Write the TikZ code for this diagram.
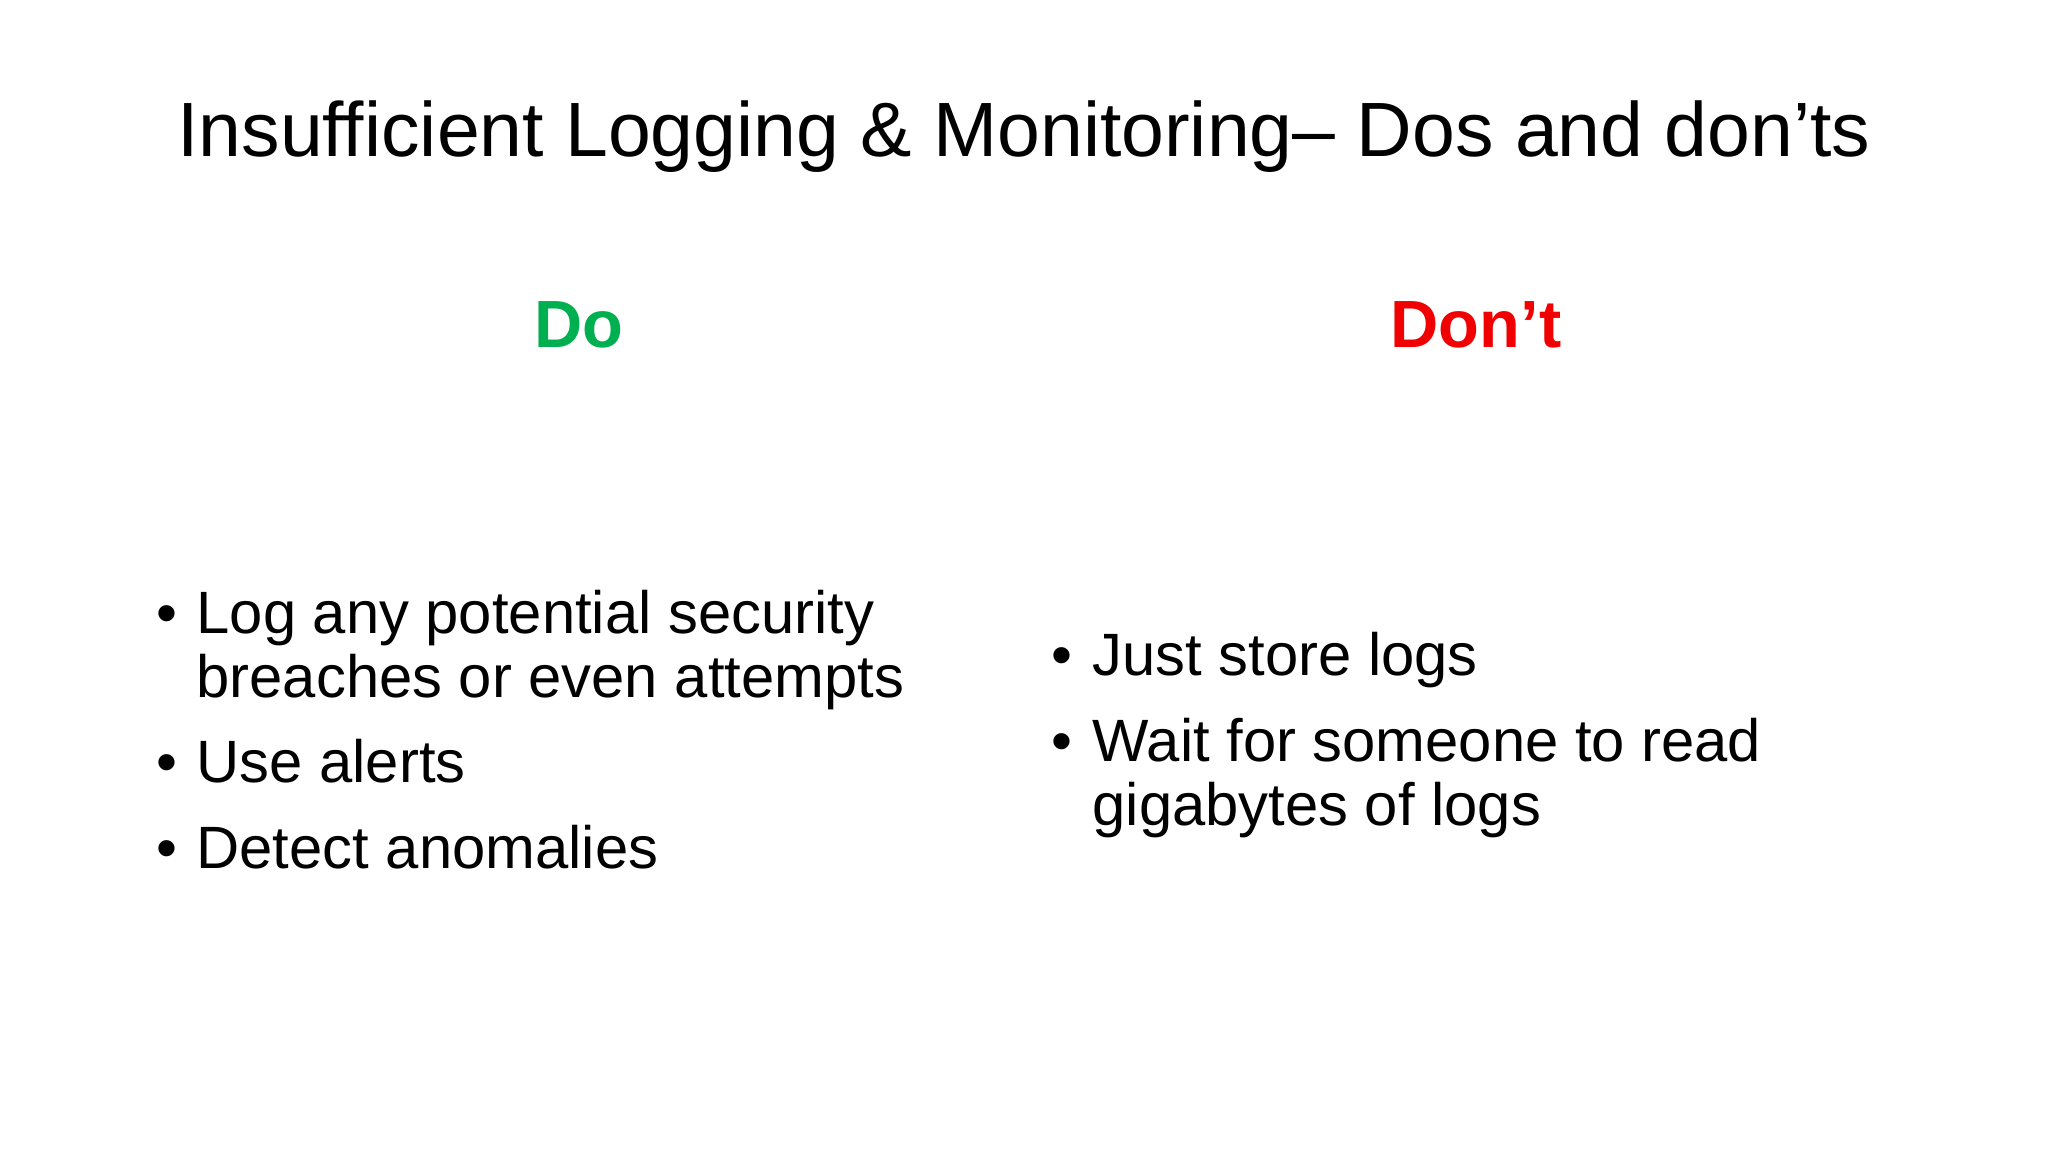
\documentclass[tikz,border=0pt]{standalone}
\usepackage{fontspec}
\setmainfont{Liberation Sans}
\definecolor{dogreen}{RGB}{0,176,80}
\definecolor{dored}{RGB}{240,0,0}
\begin{document}
\begin{tikzpicture}[x=0.013061cm,y=-0.013061cm,
  title/.style={font=\fontsize{21.9pt}{26pt}\selectfont, anchor=base},
  head/.style={font=\fontsize{19pt}{23pt}\selectfont\bfseries, anchor=base},
  item/.style={font=\fontsize{17pt}{21pt}\selectfont, anchor=base west, inner sep=0pt},
  bul/.style={font=\fontsize{17pt}{21pt}\selectfont, anchor=base, inner sep=0pt}]
\useasboundingbox[fill=white] (0,0) rectangle (1568,882);
\node[title] (t) at (784,120) {Insufficient Logging \& Monitoring– Dos and don’ts};
\node[head, text=dogreen] (do) at (443,266) {Do};
\node[head, text=dored] (dont) at (1130,266) {Don’t};
\node[bul] (b1) at (128,485) {•};
\node[item] (l1) at (150,485) {Log any potential security};
\node[item] (l1b) at (150,534) {breaches or even attempts};
\node[bul] (b2) at (128,599) {•};
\node[item] (l2) at (150,599) {Use alerts};
\node[bul] (b3) at (128,665) {•};
\node[item] (l3) at (150,665) {Detect anomalies};
\node[bul] (r1b) at (813,517) {•};
\node[item] (r1) at (836,517) {Just store logs};
\node[bul] (r2b) at (813,583) {•};
\node[item] (r2) at (836,583) {Wait for someone to read};
\node[item] (r2c) at (836,632) {gigabytes of logs};
\end{tikzpicture}
\end{document}
